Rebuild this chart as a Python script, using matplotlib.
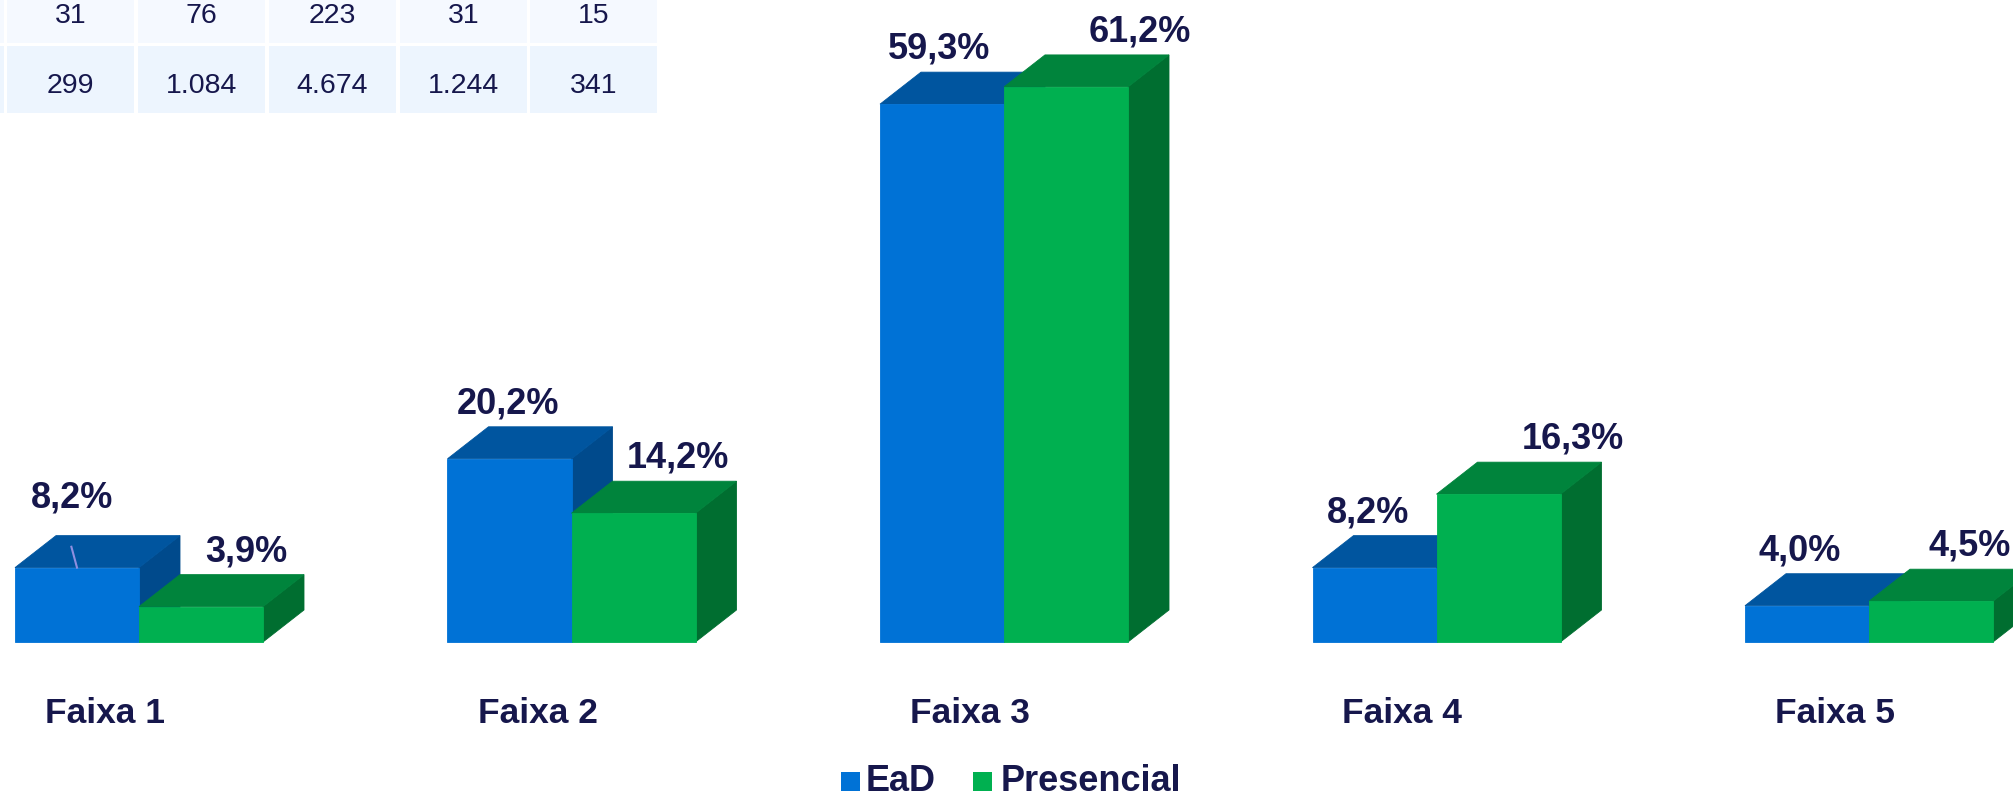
import matplotlib.pyplot as plt
from matplotlib.patches import Polygon, Rectangle

faixas = ['Faixa 1', 'Faixa 2', 'Faixa 3', 'Faixa 4', 'Faixa 5']
ead = [8.2, 20.2, 59.3, 8.2, 4.0]
presencial = [3.9, 14.2, 61.2, 16.3, 4.5]
tab_row1 = ['31', '76', '223', '31', '15']
tab_row2 = ['299', '1.084', '4.674', '1.244', '341']

# layout, in pixels of the 2013x795 picture
W, H = 2013, 795
base_px = 642
px_pct = 9.07
step = 432.5
x0_px = 139
navy = '#16174c'
plt.rcParams['font.family'] = ['Liberation Sans', 'DejaVu Sans']

fig = plt.figure(figsize=(W / 100, H / 100), dpi=100)
ax = fig.add_axes([0, 0, 1, 1])
ax.set_xlim(-x0_px / step, (W - x0_px) / step)
ax.set_ylim(-(H - base_px) / px_pct, base_px / px_pct)
ax.axis('off')

w = 124 / step
dx = 41 / step
dy = 32 / px_pct


def bar3d(x, h, front, top, side):
    ax.add_patch(Polygon([(x + w, 0), (x + w + dx, dy), (x + w + dx, h + dy), (x + w, h)],
                         closed=True, fc=side, ec=side, lw=0.6))
    ax.add_patch(Polygon([(x, h), (x + dx, h + dy), (x + w + dx, h + dy), (x + w, h)],
                         closed=True, fc=top, ec=top, lw=0.6))
    ax.add_patch(Rectangle((x, 0), w, h, fc=front, ec=front, lw=0.6))


for i in range(len(faixas)):
    bar3d(i - w, ead[i], '#0072d6', '#00559f', '#004a8c')
    bar3d(i, presencial[i], '#00b050', '#00843c', '#006e30')

# value labels (nudges in pixels, as placed in the original)
dx_ead = [-5, -1.5, -3, -6.5, -7]
dx_pres = [45, 44.5, 74, 74.5, 39]
dy_ead = [60, 45.5, 45.5, 45.5, 45.5]
for i in range(len(faixas)):
    ax.annotate(f'{ead[i]:.1f}%'.replace('.', ','), (i - w / 2, ead[i]),
                xytext=(dx_ead[i], dy_ead[i]), textcoords='offset pixels',
                ha='center', va='baseline', fontsize=26, fontweight='bold', color=navy)
    ax.annotate(f'{presencial[i]:.1f}%'.replace('.', ','), (i + w / 2, presencial[i]),
                xytext=(dx_pres[i], 45.5), textcoords='offset pixels',
                ha='center', va='baseline', fontsize=26, fontweight='bold', color=navy)

# leader line of the moved label
ax.plot([-w / 2 - 0.013, -w / 2], [ead[0] + 2.3, ead[0]], color='#8f8fe0', lw=1.5)

for i, f in enumerate(faixas):
    ax.text(i - 34 / step, -(723 - base_px) / px_pct, f, ha='center', va='baseline',
            fontsize=25.5, fontweight='bold', color=navy)

# overlay in pixel coordinates for the table and legend
ov = fig.add_axes([0, 0, 1, 1], facecolor='none')
ov.set_xlim(0, W)
ov.set_ylim(H, 0)
ov.axis('off')

cols = [7, 138, 269, 400, 530]
cw = 127
ov.add_patch(Rectangle((-50, -5), 54, 48, fc='#f5f9ff', ec='none'))
ov.add_patch(Rectangle((-50, 46), 54, 67, fc='#edf5fe', ec='none'))
for c, a, b in zip(cols, tab_row1, tab_row2):
    ov.add_patch(Rectangle((c, -5), cw, 48, fc='#f5f9ff', ec='none'))
    ov.add_patch(Rectangle((c, 46), cw, 67, fc='#edf5fe', ec='none'))
    ov.text(c + cw / 2, 23, a, ha='center', va='baseline', fontsize=20.5, color=navy)
    ov.text(c + cw / 2, 93, b, ha='center', va='baseline', fontsize=20.5, color=navy)

# legend
ov.add_patch(Rectangle((841, 772), 19, 19, fc='#0072d6', ec='none'))
ov.text(866, 791, 'EaD', ha='left', va='baseline', fontsize=26, fontweight='bold', color=navy)
ov.add_patch(Rectangle((973, 772), 19, 19, fc='#00b050', ec='none'))
ov.text(1001, 791, 'Presencial', ha='left', va='baseline', fontsize=26, fontweight='bold', color=navy)

fig.savefig('out.png', dpi=100)
